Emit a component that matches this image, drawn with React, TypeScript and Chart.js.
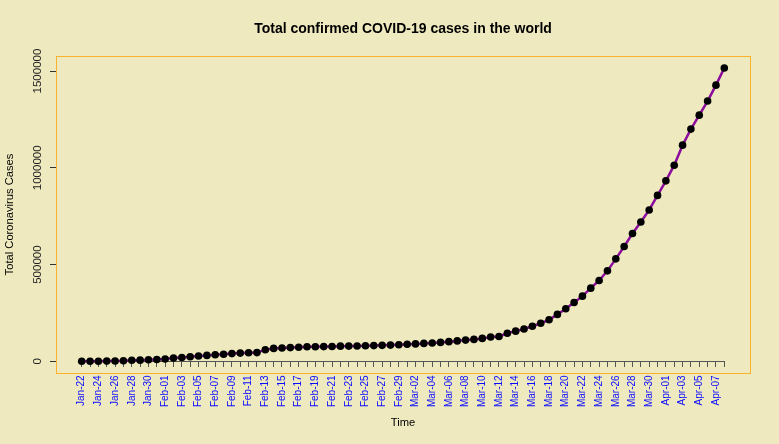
import React, { useEffect, useRef } from 'react';
import { Chart, registerables } from 'chart.js';

Chart.register(...registerables);

const dates = [
  'Jan-22', 'Jan-23', 'Jan-24', 'Jan-25', 'Jan-26', 'Jan-27', 'Jan-28', 'Jan-29', 'Jan-30', 'Jan-31',
  'Feb-01', 'Feb-02', 'Feb-03', 'Feb-04', 'Feb-05', 'Feb-06', 'Feb-07', 'Feb-08', 'Feb-09', 'Feb-10',
  'Feb-11', 'Feb-12', 'Feb-13', 'Feb-14', 'Feb-15', 'Feb-16', 'Feb-17', 'Feb-18', 'Feb-19', 'Feb-20',
  'Feb-21', 'Feb-22', 'Feb-23', 'Feb-24', 'Feb-25', 'Feb-26', 'Feb-27', 'Feb-28', 'Feb-29',
  'Mar-01', 'Mar-02', 'Mar-03', 'Mar-04', 'Mar-05', 'Mar-06', 'Mar-07', 'Mar-08', 'Mar-09', 'Mar-10',
  'Mar-11', 'Mar-12', 'Mar-13', 'Mar-14', 'Mar-15', 'Mar-16', 'Mar-17', 'Mar-18', 'Mar-19', 'Mar-20',
  'Mar-21', 'Mar-22', 'Mar-23', 'Mar-24', 'Mar-25', 'Mar-26', 'Mar-27', 'Mar-28', 'Mar-29', 'Mar-30',
  'Mar-31', 'Apr-01', 'Apr-02', 'Apr-03', 'Apr-04', 'Apr-05', 'Apr-06', 'Apr-07', 'Apr-08',
];

const totalCases = [
  555, 654, 941, 1434, 2118, 2927, 5578, 6166, 8234, 9927,
  12038, 16787, 19881, 23892, 27635, 30794, 34391, 37120, 40150, 42762,
  44802, 45221, 60368, 66885, 69030, 71224, 73258, 75136, 75639, 76197,
  76819, 78572, 78958, 79561, 80406, 81388, 82746, 84112, 86011,
  88369, 90306, 92840, 95120, 97886, 101801, 105847, 109821, 113590, 118620,
  125875, 128352, 145205, 156101, 167454, 181574, 197102, 214821, 242570, 272208,
  304507, 336953, 378235, 418045, 467653, 529591, 593291, 660706, 720117, 782365,
  857487, 932605, 1013466, 1117000, 1200000, 1272000, 1345000, 1427000, 1516000,
];

const yTickValues = [0, 500000, 1000000, 1500000];
const yMin = -60100;
const yMax = 1577700;
const xMin = -3.08;
const xMax = 80.08;

const chartTitle = 'Total confirmed COVID-19 cases in the world';
const xTitle = 'Time';
const yTitle = 'Total Coronavirus Cases';

const BG = '#EEE9BF';
const FONT = "'Liberation Sans', Arial, Helvetica, sans-serif";

const decorPlugin = {
  id: 'decor',
  beforeDraw(chart: any) {
    const { ctx, width, height } = chart;
    ctx.save();
    ctx.fillStyle = BG;
    ctx.fillRect(0, 0, width, height);
    ctx.restore();
  },
  beforeDatasetsDraw(chart: any) {
    const { ctx } = chart;
    const xs = chart.scales.x;
    const ys = chart.scales.y;
    const y0 = Math.round(ys.getPixelForValue(0)) + 0.5;
    const x0 = xs.getPixelForValue(0);
    const x1 = xs.getPixelForValue(dates.length - 1);
    ctx.save();
    ctx.strokeStyle = '#555555';
    ctx.lineWidth = 1;
    ctx.beginPath();
    ctx.moveTo(Math.round(x0), y0);
    ctx.lineTo(Math.round(x1) + 1, y0);
    ctx.stroke();
    ctx.restore();
  },
  afterDraw(chart: any) {
    const { ctx, chartArea } = chart;
    ctx.save();
    ctx.strokeStyle = '#FBB22A';
    ctx.lineWidth = 1;
    ctx.strokeRect(
      Math.round(chartArea.left) + 0.5,
      Math.round(chartArea.top) + 0.5,
      Math.round(chartArea.right - chartArea.left),
      Math.round(chartArea.bottom - chartArea.top)
    );
    ctx.restore();
  },
};

export default function App() {
  const ref = useRef<HTMLCanvasElement>(null);

  useEffect(() => {
    document.body.style.margin = '0';
    document.body.style.background = BG;
    Chart.defaults.font.family = FONT;

    const chart = new Chart(ref.current as HTMLCanvasElement, {
      type: 'line',
      data: {
        datasets: [
          {
            data: totalCases.map((v, i) => ({ x: i, y: v })),
            borderColor: '#8C0C9C',
            borderWidth: 2.5,
            pointRadius: 3.8,
            pointBackgroundColor: '#000000',
            pointBorderColor: '#000000',
            pointBorderWidth: 0,
            pointHoverRadius: 3.8,
            tension: 0,
            fill: false,
          },
        ],
      },
      options: {
        responsive: false,
        animation: false,
        events: [],
        layout: { padding: { left: 0, right: 29, top: 0, bottom: 71 } },
        plugins: {
          legend: { display: false },
          tooltip: { enabled: false },
          title: {
            display: true,
            text: chartTitle,
            fullSize: false,
            color: '#000000',
            font: { family: FONT, size: 14, weight: 'bold' },
            padding: { top: 21, bottom: 18.2 },
          },
        },
        scales: {
          x: {
            type: 'linear',
            min: xMin,
            max: xMax,
            position: { y: 0 } as any,
            afterBuildTicks: (s: any) => {
              s.ticks = dates.map((_, i) => ({ value: i }));
            },
            afterFit: (s: any) => {
              s.height = 71;
            },
            ticks: {
              autoSkip: false,
              minRotation: 90,
              maxRotation: 90,
              padding: 8,
              color: '#0A0AFF',
              font: { family: FONT, size: 10 },
              callback: (v: any) => {
                const n = Number(v);
                return Number.isInteger(n) && n % 2 === 0 ? dates[n] : '';
              },
            },
            grid: {
              drawOnChartArea: false,
              drawTicks: true,
              tickLength: 6,
              color: '#555555',
              tickColor: '#555555',
              lineWidth: 1,
            },
            border: { display: false },
            title: {
              display: true,
              text: xTitle,
              color: '#000000',
              font: { family: FONT, size: 11.2 },
              padding: { top: 0, bottom: 3 },
            },
          },
          y: {
            type: 'linear',
            min: yMin,
            max: yMax,
            afterBuildTicks: (s: any) => {
              s.ticks = yTickValues.map((v) => ({ value: v }));
            },
            afterFit: (s: any) => {
              s.width = 56;
            },
            ticks: {
              minRotation: 90,
              maxRotation: 90,
              crossAlign: 'center',
              padding: -10,
              color: '#222222',
              font: { family: FONT, size: 11.5 },
              callback: (v: any) => String(v),
            },
            grid: {
              drawOnChartArea: false,
              drawTicks: true,
              tickLength: 6,
              color: '#333333',
              tickColor: '#333333',
              lineWidth: 1,
            },
            border: { display: false },
            title: {
              display: true,
              text: yTitle,
              color: '#000000',
              font: { family: FONT, size: 11.2 },
              padding: { top: 3.3, bottom: 0 },
            },
          },
        },
      } as any,
      plugins: [decorPlugin],
    });

    return () => chart.destroy();
  }, []);

  return (
    <canvas
      ref={ref}
      width={779}
      height={444}
      style={{ display: 'block', width: 779, height: 444 }}
    />
  );
}
